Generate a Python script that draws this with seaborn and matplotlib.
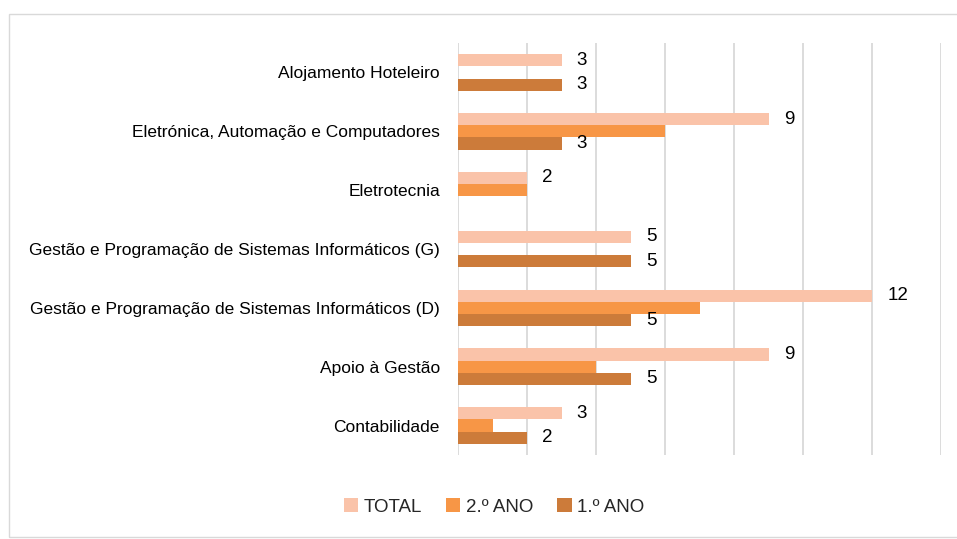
import numpy as np
import pandas as pd
import matplotlib
matplotlib.use('Agg')
import matplotlib.pyplot as plt
from matplotlib.patches import Patch, Rectangle
import seaborn as sns

cursos = ['Alojamento Hoteleiro',
          'Eletrónica, Automação e Computadores',
          'Eletrotecnia',
          'Gestão e Programação de Sistemas Informáticos (G)',
          'Gestão e Programação de Sistemas Informáticos (D)',
          'Apoio à Gestão',
          'Contabilidade']
series = ['TOTAL', '2.º ANO', '1.º ANO']
total = [3, 9, 2, 5, 12, 9, 3]
ano2 = [0, 6, 2, 0, 7, 4, 1]
ano1 = [3, 3, 0, 5, 5, 5, 2]
cores = ['#FAC3A9', '#F79646', '#CC7B3A']

df = pd.DataFrame({'curso': cursos * 3,
                   'serie': [s for s in series for _ in cursos],
                   'valor': total + ano2 + ano1})

sns.set_style('white')
plt.rcParams['font.family'] = ['Liberation Sans', 'DejaVu Sans']

fig = plt.figure(figsize=(9.57, 5.39), dpi=100)
ax = fig.add_axes([458 / 957, 1 - 455 / 539, (941 - 458) / 957, (455 - 43) / 539])

sns.barplot(data=df, x='valor', y='curso', hue='serie', order=cursos,
            hue_order=series, palette=cores, width=0.62, gap=0,
            saturation=1, orient='h', legend=False, linewidth=0, ax=ax)

ax.set_xlim(0, 14)
ax.set_xticks(np.arange(0, 15, 2))
ax.set_xticklabels([])
ax.tick_params(axis='x', length=0)
ax.tick_params(axis='y', length=0, pad=13, labelsize=12.5, labelcolor='#000000')
ax.grid(axis='x', color='#D9D9D9', lw=1.3)
ax.set_axisbelow(True)
ax.set_xlabel('')
ax.set_ylabel('')
for s in ax.spines.values():
    s.set_visible(False)

# rótulos apenas no TOTAL e no 1.º ANO
for i, vals in [(0, total), (2, ano1)]:
    ax.bar_label(ax.containers[i], labels=[str(v) if v else '' for v in vals],
                 padding=11, fontsize=13.5, color='#000000')

handles = [Patch(facecolor=c, edgecolor='none') for c in cores]
fig.legend(handles, series, loc='center', bbox_to_anchor=(494 / 957, 1 - 507 / 539),
           ncol=3, frameon=False, fontsize=13.5, handlelength=0.75, handleheight=0.75,
           handletextpad=0.3, columnspacing=1.3)

fig.add_artist(Rectangle((9 / 957, 1 - 537 / 539), 1.0, (537 - 14) / 539,
                         transform=fig.transFigure, fill=False,
                         edgecolor='#D9D9D9', lw=1))

fig.savefig('out.png', dpi=100)
